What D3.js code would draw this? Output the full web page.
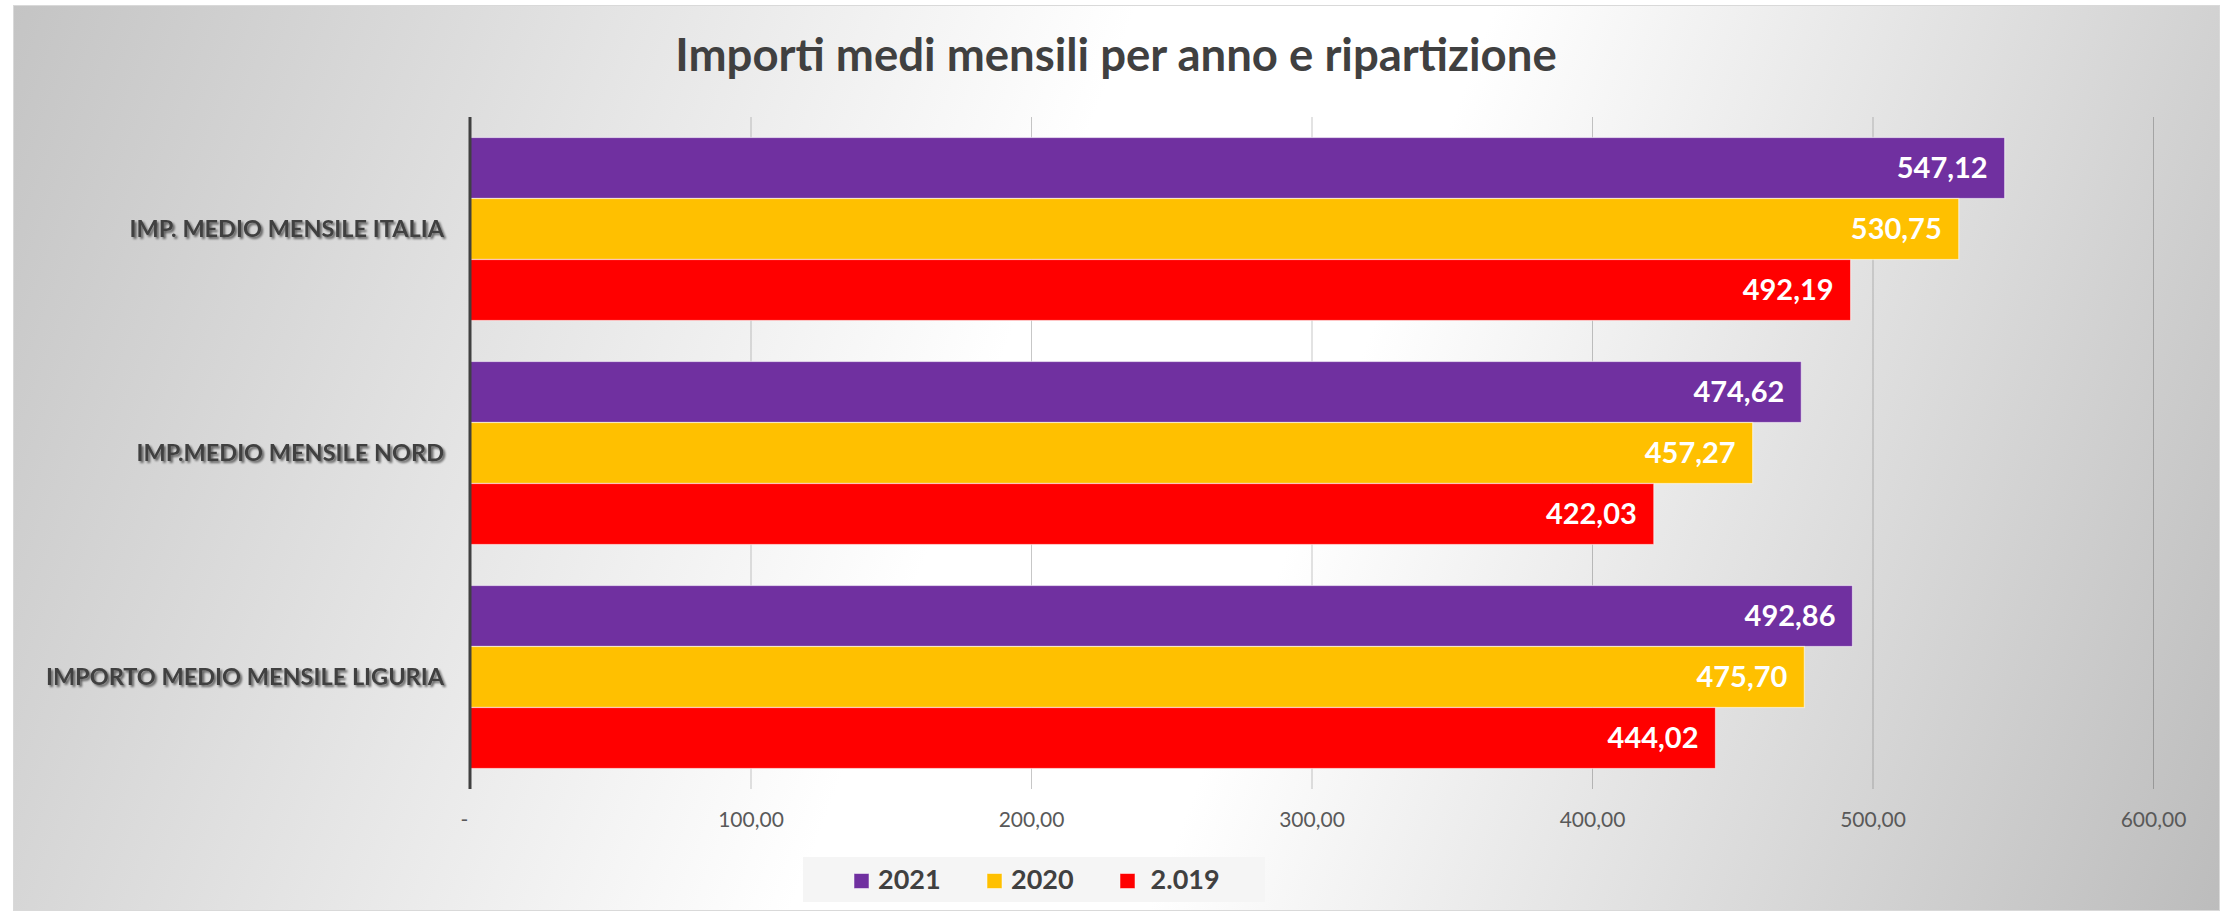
<!DOCTYPE html>
<html>
<head>
<meta charset="utf-8">
<script src="https://cdn.jsdelivr.net/npm/d3@7"></script>
<style>
  body { margin: 0; background: #fff; }
  svg { display: block; font-family: Lato, "Open Sans", sans-serif; }
</style>
</head>
<body>
<svg id="chart" width="2226" height="913"></svg>
<script>
'use strict';

// Data
const categories = ['IMP. MEDIO MENSILE ITALIA', 'IMP.MEDIO MENSILE NORD', 'IMPORTO MEDIO MENSILE LIGURIA'];
const seriesNames = ['2021', '2020', ' 2.019'];
const values2021 = [547.12, 474.62, 492.86];
const values2020 = [530.75, 457.27, 475.70];
const values2019 = [492.19, 422.03, 444.02];
const xTicks = [0, 100, 200, 300, 400, 500, 600];
const seriesColors = ['#7030A0', '#FFC000', '#FF0000'];

const series = [values2021, values2020, values2019];

const it = d3.formatLocale({decimal: ',', thousands: '.', grouping: [3], currency: ['€', '']});
const fmt = it.format(',.2f');
const tickFmt = v => v === 0 ? '-' : fmt(v);

const svg = d3.select('#chart');
const plot = {left: 470, right: 2153, top: 117, bottom: 789};

// Background gradient (grey - white - grey, slightly tilted)
const defs = svg.append('defs');
const grad = defs.append('linearGradient')
  .attr('id', 'bg')
  .attr('gradientUnits', 'userSpaceOnUse')
  .attr('x1', 13).attr('y1', 5)
  .attr('x2', 2242).attr('y2', 859);
grad.append('stop').attr('offset', 0).attr('stop-color', '#c4c4c4');
grad.append('stop').attr('offset', 0.44).attr('stop-color', '#ffffff');
grad.append('stop').attr('offset', 0.58).attr('stop-color', '#ffffff');
grad.append('stop').attr('offset', 1).attr('stop-color', '#bcbcbc');

const shadow = defs.append('filter').attr('id', 'shadow')
  .attr('x', '-5%').attr('y', '-30%').attr('width', '110%').attr('height', '160%');
shadow.append('feGaussianBlur').attr('in', 'SourceAlpha').attr('stdDeviation', 1.3).attr('result', 'b');
shadow.append('feOffset').attr('in', 'b').attr('dx', 2).attr('dy', 2).attr('result', 'o');
shadow.append('feComponentTransfer').attr('in', 'o').attr('result', 's')
  .append('feFuncA').attr('type', 'linear').attr('slope', 0.55);
const merge = shadow.append('feMerge');
merge.append('feMergeNode').attr('in', 's');
merge.append('feMergeNode').attr('in', 'SourceGraphic');

svg.append('rect')
  .attr('x', 13.5).attr('y', 5.5)
  .attr('width', 2206).attr('height', 905)
  .attr('fill', 'url(#bg)')
  .attr('stroke', '#d9d9d9')
  .attr('stroke-width', 1);

// Title
svg.append('text')
  .attr('x', 1116).attr('y', 71)
  .attr('text-anchor', 'middle')
  .attr('font-size', 45.5)
  .attr('font-weight', 'bold')
  .attr('fill', '#404040')
  .text('Importi medi mensili per anno e ripartizione');

// Scales
const x = d3.scaleLinear().domain([0, 600]).range([plot.left, plot.right]);
const y = d3.scaleBand().domain(categories).range([plot.top, plot.bottom])
  .paddingInner(0.183).paddingOuter(0.0915);
const ySub = d3.scaleBand().domain(d3.range(seriesNames.length)).range([0, y.bandwidth()]);

// Gridlines
svg.append('g')
  .attr('transform', `translate(0,${plot.top})`)
  .call(d3.axisTop(x).tickValues(xTicks.slice(1)).tickSize(-(plot.bottom - plot.top)).tickFormat(''))
  .call(g => g.select('.domain').remove())
  .call(g => g.selectAll('line').attr('stroke', '#000').attr('stroke-opacity', 0.22).attr('stroke-width', 1));

// X tick labels
svg.append('g')
  .attr('transform', `translate(0,${plot.bottom})`)
  .call(d3.axisBottom(x).tickValues(xTicks).tickSize(0).tickPadding(23).tickFormat(tickFmt))
  .call(g => g.select('.domain').remove())
  .call(g => g.selectAll('text')
    .attr('font-family', 'Lato, sans-serif')
    .attr('font-size', 21)
    .attr('fill', '#595959')
    .attr('dx', d => d === 0 ? -6 : 0));

// Bars
const groups = svg.append('g').selectAll('g')
  .data(categories)
  .join('g')
  .attr('transform', d => `translate(0,${y(d)})`);

groups.each(function(cat, ci) {
  const g = d3.select(this);
  series.forEach((vals, si) => {
    g.append('rect')
      .attr('x', x(0))
      .attr('y', ySub(si))
      .attr('width', x(vals[ci]) - x(0))
      .attr('height', ySub.bandwidth())
      .attr('fill', seriesColors[si])
      .attr('stroke', '#fff')
      .attr('stroke-opacity', 0.55)
      .attr('stroke-width', 1.2);
    g.append('text')
      .attr('x', x(vals[ci]) - 17)
      .attr('y', ySub(si) + ySub.bandwidth() / 2)
      .attr('dy', '0.36em')
      .attr('text-anchor', 'end')
      .attr('font-size', 29)
      .attr('font-weight', 'bold')
      .attr('fill', '#fff')
      .text(fmt(vals[ci]));
  });
});

// Category axis line and labels
svg.append('line')
  .attr('x1', plot.left).attr('x2', plot.left)
  .attr('y1', plot.top).attr('y2', plot.bottom)
  .attr('stroke', '#404040')
  .attr('stroke-width', 3);

svg.append('g').selectAll('text')
  .data(categories)
  .join('text')
  .attr('x', 444)
  .attr('y', d => y(d) + y.bandwidth() / 2)
  .attr('dy', '0.36em')
  .attr('text-anchor', 'end')
  .attr('font-size', 23.5)
  .attr('font-weight', 'bold')
  .attr('fill', '#404040')
  .attr('filter', 'url(#shadow)')
  .text(d => d);

// Legend
const legend = svg.append('g');
legend.append('rect')
  .attr('x', 803).attr('y', 857)
  .attr('width', 462).attr('height', 45)
  .attr('fill', '#f5f5f5');
const items = legend.selectAll('g.item')
  .data(seriesNames)
  .join('g')
  .attr('class', 'item')
  .attr('transform', (d, i) => `translate(${854 + i * 133},0)`);
items.append('rect')
  .attr('x', 0).attr('y', 873.5)
  .attr('width', 15).attr('height', 15)
  .attr('fill', (d, i) => seriesColors[i])
  .attr('stroke', '#fff').attr('stroke-opacity', 0.5);
items.append('text')
  .attr('x', 24).attr('y', 889)
  .attr('font-size', 27)
  .attr('font-weight', 'bold')
  .attr('fill', '#404040')
  .style('white-space', 'pre')
  .text(d => d);
</script>
</body>
</html>
